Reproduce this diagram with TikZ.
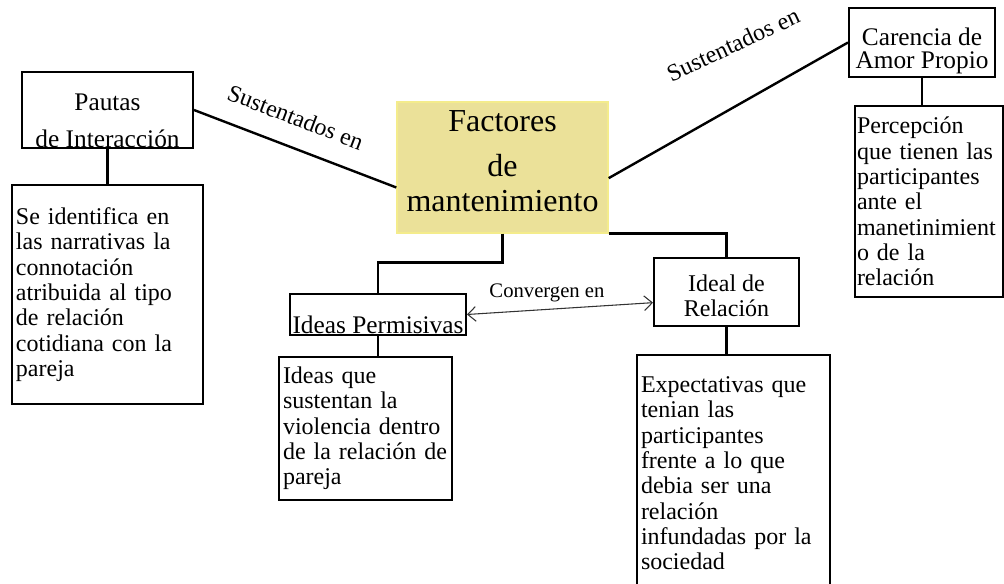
\documentclass[tikz,border=0pt]{standalone}
\usepackage{fontspec}
\setmainfont{Liberation Serif}
\usetikzlibrary{arrows.meta}
\definecolor{factfill}{RGB}{235,225,153}
\definecolor{factedge}{RGB}{244,236,140}

\begin{document}
\begin{tikzpicture}[x=0.75pt, y=-0.75pt,
  font=\fontsize{18}{19}\selectfont,
  titlebox/.style={draw, line width=1.5pt, inner sep=0pt},
  descbox/.style={draw, line width=1.5pt, inner xsep=3pt, inner ysep=0pt, align=left},
  link/.style={line width=1.8pt},
  sust/.style={font=\fontsize{18}{19}\selectfont, inner sep=3pt}]
\useasboundingbox (0,0) rectangle (1004,584);
\clip (0,0) rectangle (1004,584);

\node (factores) [fill=factfill, draw=factedge, line width=1pt, minimum width=158.25pt, minimum height=98.25pt,
  label={[align=center, font=\fontsize{24}{26.25}\selectfont, yshift=4.9pt]center:{Factores\\[7.5pt]de\\mantenimiento}}] at (502.5,167.5) {};

\node (pautas) [titlebox, minimum width=128.25pt, minimum height=57pt,
  label={[align=center, font=\fontsize{19}{19}\selectfont, yshift=-8pt]center:{Pautas\\[8.75pt]de Interacción}}] at (107.5,110) {};
\node (pautasdesc) [descbox, text width=137.25pt, minimum height=164.25pt] at (107.5,294.5)
  {Se identifica en\\las narrativas la\\connotación\\atribuida al tipo\\de relación\\cotidiana con la\\pareja};

\node (carencia) [titlebox, minimum width=109.5pt, minimum height=51.75pt,
  label={[align=center, font=\fontsize{19}{17}\selectfont, yshift=-6.5pt]center:{Carencia de\\Amor Propio}}] at (922,42.5) {};
\node (carenciadesc) [descbox, inner xsep=1.5pt, text width=108pt, minimum height=143.25pt] at (929,201.5)
  {Percepción\\que tienen las\\participantes\\ante el\\manetinimient\\o de la\\relación};

\node (permisivas) [titlebox, minimum width=132pt, minimum height=30.75pt,
  label={[align=center, font=\fontsize{19}{19}\selectfont, yshift=-8pt]center:{Ideas Permisivas}}] at (378,314.5) {};
\node (permisivasdesc) [descbox, text width=123.75pt, minimum height=107.25pt] at (365.5,428.5)
  {Ideas que\\sustentan la\\violencia dentro\\de la relación de\\pareja};

\node (ideal) [titlebox, minimum width=108.75pt, minimum height=51pt,
  label={[align=center, yshift=-3pt]center:{Ideal de\\Relación}}] at (726.5,292) {};
\node (idealdesc) [descbox, text width=138.75pt, minimum height=177.75pt] at (733.5,473.5)
  {Expectativas que\\tenian las\\participantes\\frente a lo que\\debia ser una\\relación\\infundadas por la\\sociedad};

% sustentados en
\draw [link] (pautas.east) -- ([yshift=-15pt]factores.west)
  node (sustizq) [sust, pos=0.45, sloped, above=12pt] {Sustentados en};
\draw [link] ([yshift=-8pt]factores.east) -- (carencia.west)
  node (sustder) [sust, pos=0.52, yshift=47.5pt, rotate=25] {Sustentados en};

\draw [link] (factores.south) -- ++(0,29) -| (permisivas.north);
\draw [link] (factores.south east) -| (ideal.north);

\draw [link] (pautas.south) -- (pautasdesc.north);
\draw [link] (carencia.south) -- (carencia.south |- carenciadesc.north);
\draw [line width=1.2pt] (permisivas.south) -- (permisivas.south |- permisivasdesc.north);
\draw [link] (ideal.south) -- (ideal.south |- idealdesc.north);

\draw [{Straight Barb[length=6pt, width=11pt]}-{Straight Barb[length=6pt, width=11pt]}, line width=0.8pt, black!80]
  (permisivas.east) -- ([yshift=-8pt]ideal.west)
  node (conv) [pos=0.43, above=2pt, black, font=\fontsize{15.5}{16}\selectfont] {Convergen en};

\end{tikzpicture}
\end{document}
